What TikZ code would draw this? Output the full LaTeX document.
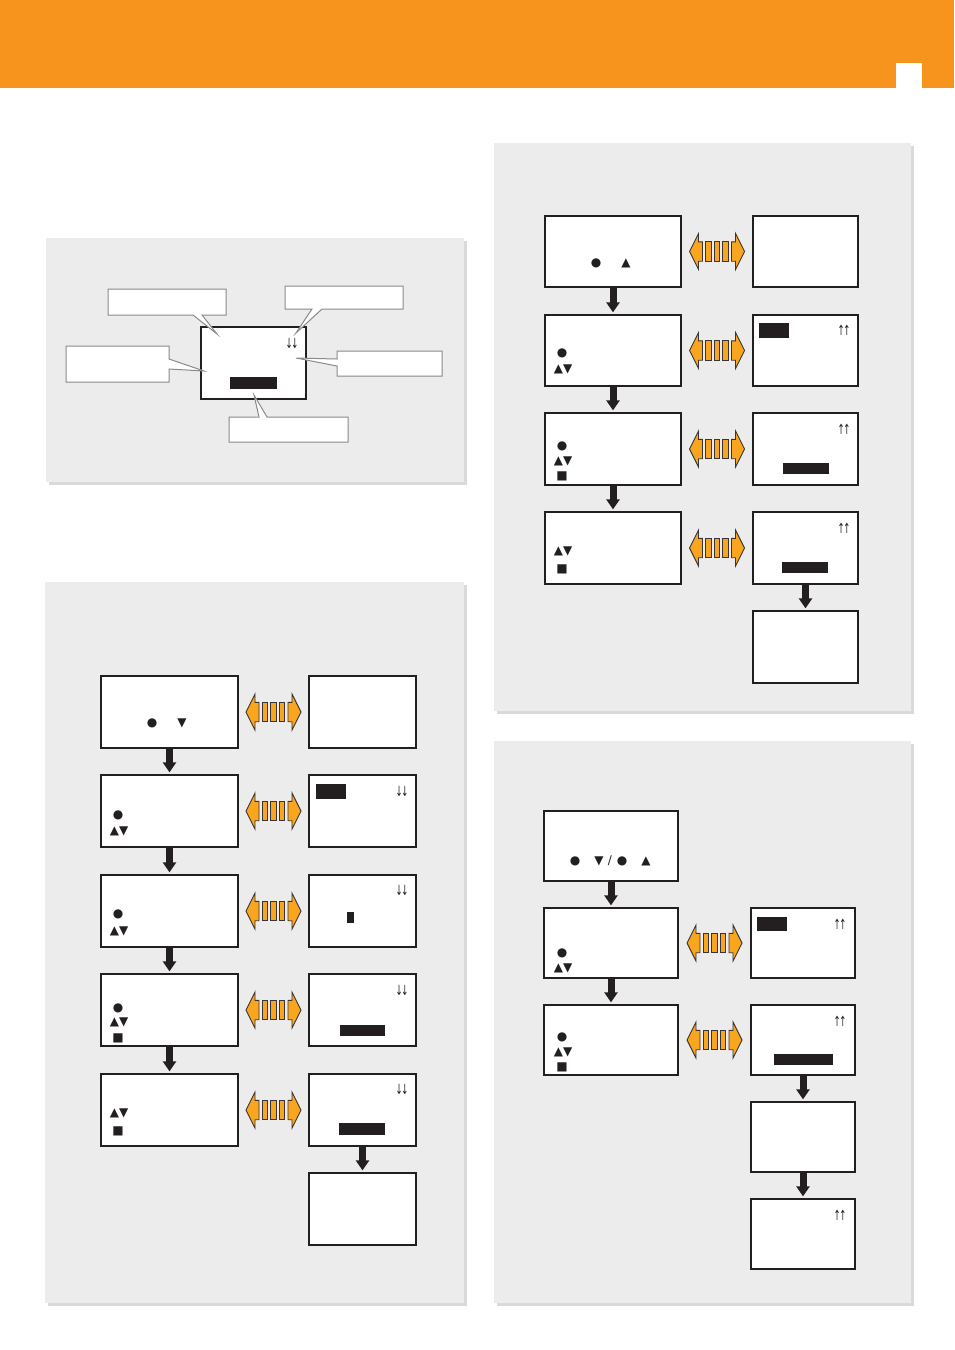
\documentclass[tikz,border=0pt]{standalone}
\usepackage{fontspec}
\newfontfamily\djv{DejaVu Sans}
\usetikzlibrary{arrows.meta,calc}
\definecolor{hdr}{HTML}{F7941E}
\definecolor{pnl}{HTML}{ECECEC}
\definecolor{shd}{HTML}{DADADA}
\definecolor{ink}{HTML}{231F20}
\definecolor{arrfill}{HTML}{F9A51E}
\definecolor{cgray}{HTML}{8A8A8A}
\tikzset{
  panel/.style={fill=pnl,draw=none},
  panelshadow/.style={fill=shd,draw=none},
  screen/.style={rectangle,draw=ink,fill=white,line width=1.3pt,inner sep=0pt},
  callout/.style={draw=cgray,fill=white,line width=1.0pt,line join=miter},
  sym/.style={font=\djv\fontsize{12}{12}\selectfont,inner sep=0pt,text=ink},
  tiny/.style={font=\djv\fontsize{14}{14}\selectfont,inner sep=0pt,text=ink},
  bar/.style={fill=ink},
  dnarr/.style={draw=ink,line width=7pt,-{Triangle[width=13pt,length=10pt]}},
  arrpart/.style={fill=arrfill,draw=ink!90,line width=0.9pt,line join=miter},
  dblarr/.pic={
    \filldraw[arrpart] (-27.5,0) -- (-18.5,-18) -- (-18.5,-9.7) -- (-14.5,-9.7) -- (-14.5,9.7) -- (-18.5,9.7) -- (-18.5,18) -- cycle;
    \filldraw[arrpart] (27.5,0) -- (18.5,-18) -- (18.5,-9.7) -- (14.5,-9.7) -- (14.5,9.7) -- (18.5,9.7) -- (18.5,18) -- cycle;
    \filldraw[arrpart] (-11.2,-9.7) rectangle (-5.8,9.7);
    \filldraw[arrpart] (-2.6,-9.7) rectangle (2.6,9.7);
    \filldraw[arrpart] (5.8,-9.7) rectangle (11.2,9.7);
  }
}
\newcommand{\scrbox}[5]{\node[screen,minimum width={#4-#2},minimum height={#5-#3}] (#1) at ({(#2+#4)/2},{(#3+#5)/2}) {};}
\newcommand{\dnlink}[2]{\draw[dnarr] (#1.south) -- ($(#2.north)+(0,-2)$);}
\newcommand{\swaplink}[2]{\pic at ($(#1.east)!0.5!(#2.west)$) {dblarr};}
\newcommand{\dndn}{\scalebox{0.6}[1]{↓\kern-2pt↓}}
\newcommand{\upup}{\scalebox{0.6}[1]{↑\kern-2pt↑}}
\begin{document}
\begin{tikzpicture}[x=1pt,y=-1pt]
\useasboundingbox (0,0) rectangle (954,1350);
\fill[white] (0,0) rectangle (954,1350);
% header
\fill[hdr] (0,0) rectangle (954,88);
\fill[white] (896,63) rectangle (922,88);

% panels
\fill[panelshadow] (49,241) rectangle (467,485);
\fill[panel] (46,238) rectangle (464,482);
\fill[panelshadow] (48,585) rectangle (467,1306);
\fill[panel] (45,582) rectangle (464,1303);
\fill[panelshadow] (497,146) rectangle (914,714);
\fill[panel] (494,143) rectangle (911,711);
\fill[panelshadow] (497,744) rectangle (914,1306);
\fill[panel] (494,741) rectangle (911,1303);

% ---------- Panel A ----------
\scrbox{a0}{201}{327}{306}{399}
\fill[bar] (230,377) rectangle (277,389);
\node[tiny] (aa) at (292,343) {\dndn};
\draw[callout] (108,289) -- (226,289) -- (226,315) -- (202,315) -- (217,334) -- (193,315) -- (108,315) -- cycle;
\draw[callout] (285,286) -- (403,286) -- (403,309) -- (322,309) -- (296,333) -- (312,309) -- (285,309) -- cycle;
\draw[callout] (66,346) -- (169,346) -- (169,359) -- (204,371) -- (169,369) -- (169,382) -- (66,382) -- cycle;
\draw[callout] (337,351) -- (442,351) -- (442,376) -- (337,376) -- (337,366) -- (296,358) -- (337,359) -- cycle;
\draw[callout] (229,417) -- (259,417) -- (254,395) -- (267,417) -- (348,417) -- (348,442) -- (229,442) -- cycle;

% ---------- Panel B ----------
\scrbox{bl1}{101}{676}{238}{748}
\scrbox{bl2}{101}{775}{238}{847}
\scrbox{bl3}{101}{875}{238}{947}
\scrbox{bl4}{101}{974}{238}{1046}
\scrbox{bl5}{101}{1074}{238}{1146}
\scrbox{br1}{309}{676}{416}{748}
\scrbox{br2}{309}{775}{416}{847}
\scrbox{br3}{309}{875}{416}{947}
\scrbox{br4}{309}{974}{416}{1046}
\scrbox{br5}{309}{1074}{416}{1146}
\scrbox{br6}{309}{1173}{416}{1245}
\dnlink{bl1}{bl2}
\dnlink{bl2}{bl3}
\dnlink{bl3}{bl4}
\dnlink{bl4}{bl5}
\dnlink{br5}{br6}
\swaplink{bl1}{br1}
\swaplink{bl2}{br2}
\swaplink{bl3}{br3}
\swaplink{bl4}{br4}
\swaplink{bl5}{br5}
\node[sym] (b1a) at (152,723) {●};
\node[sym] (b1b) at (182,723) {▼};
\node[sym] (b2a) at (118,815) {●};
\node[sym] (b2b) at (119,831) {▲▼};
\fill[bar] (316,784) rectangle (346,799);
\node[tiny] (b2c) at (402,791) {\dndn};
\node[sym] (b3a) at (118,914) {●};
\node[sym] (b3b) at (119,931) {▲▼};
\node[tiny] (b3c) at (402,890) {\dndn};
\fill[bar] (347,912) rectangle (354,923);
\node[sym] (b4a) at (118,1008) {●};
\node[sym] (b4b) at (119,1022) {▲▼};
\node[sym] (b4d) at (118,1038) {■};
\node[tiny] (b4c) at (402,990) {\dndn};
\fill[bar] (340,1025) rectangle (385,1036);
\node[sym] (b5b) at (119,1113) {▲▼};
\node[sym] (b5d) at (118,1131) {■};
\node[tiny] (b5c) at (402,1089) {\dndn};
\fill[bar] (339,1123) rectangle (385,1135);

% ---------- Panel C ----------
\scrbox{cl1}{545}{216}{681}{287}
\scrbox{cl2}{545}{315}{681}{386}
\scrbox{cl3}{545}{413}{681}{485}
\scrbox{cl4}{545}{512}{681}{584}
\scrbox{cr1}{753}{216}{858}{287}
\scrbox{cr2}{753}{315}{858}{386}
\scrbox{cr3}{753}{413}{858}{485}
\scrbox{cr4}{753}{512}{858}{584}
\scrbox{cr5}{753}{611}{858}{683}
\dnlink{cl1}{cl2}
\dnlink{cl2}{cl3}
\dnlink{cl3}{cl4}
\dnlink{cr4}{cr5}
\swaplink{cl1}{cr1}
\swaplink{cl2}{cr2}
\swaplink{cl3}{cr3}
\swaplink{cl4}{cr4}
\node[sym] (c1a) at (596,263) {●};
\node[sym] (c1b) at (626,263) {▲};
\node[sym] (c2a) at (562,353) {●};
\node[sym] (c2b) at (563,369) {▲▼};
\fill[bar] (759,323) rectangle (789,338);
\node[tiny] (c2c) at (844,330) {\upup};
\node[sym] (c3a) at (562,446) {●};
\node[sym] (c3b) at (563,461) {▲▼};
\node[sym] (c3d) at (562,476) {■};
\node[tiny] (c3c) at (844,429) {\upup};
\fill[bar] (783,463) rectangle (829,474);
\node[sym] (c4b) at (563,551) {▲▼};
\node[sym] (c4d) at (562,569) {■};
\node[tiny] (c4c) at (844,528) {\upup};
\fill[bar] (782,562) rectangle (828,573);

% ---------- Panel D ----------
\scrbox{dl1}{544}{811}{678}{881}
\scrbox{dl2}{544}{908}{678}{978}
\scrbox{dl3}{544}{1005}{678}{1075}
\scrbox{dr2}{751}{908}{855}{978}
\scrbox{dr3}{751}{1005}{855}{1075}
\scrbox{dr4}{751}{1102}{855}{1172}
\scrbox{dr5}{751}{1199}{855}{1269}
\dnlink{dl1}{dl2}
\dnlink{dl2}{dl3}
\dnlink{dr3}{dr4}
\dnlink{dr4}{dr5}
\swaplink{dl2}{dr2}
\swaplink{dl3}{dr3}
\node[sym] (d1a) at (575,861) {●};
\node[sym] (d1b) at (599,861) {▼};
\node[sym] (d1s) at (610,861) {/};
\node[sym] (d1c) at (622,861) {●};
\node[sym] (d1d) at (646,861) {▲};
\node[sym] (d2a) at (562,953) {●};
\node[sym] (d2b) at (563,968) {▲▼};
\fill[bar] (757,917) rectangle (787,931);
\node[tiny] (d2c) at (840,924) {\upup};
\node[sym] (d3a) at (562,1037) {●};
\node[sym] (d3b) at (563,1052) {▲▼};
\node[sym] (d3d) at (562,1067) {■};
\node[tiny] (d3c) at (840,1021) {\upup};
\fill[bar] (774,1054) rectangle (833,1065);
\node[tiny] (d5c) at (840,1215) {\upup};
\end{tikzpicture}
\end{document}
